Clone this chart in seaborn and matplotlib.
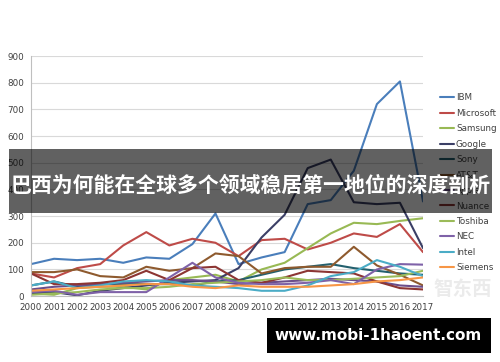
import matplotlib
matplotlib.use("Agg")
import matplotlib.pyplot as plt
import seaborn as sns
import pandas as pd
from matplotlib.patches import Rectangle

years = list(range(2000, 2018))
companies = ["IBM", "Microsoft", "Samsung", "Google", "Sony", "AT&T", "Apple",
             "Nuance", "Toshiba", "NEC", "Intel", "Siemens"]

ibm       = [120, 140, 135, 140, 125, 145, 140, 195, 310, 120, 145, 165, 345, 360, 470, 720, 805, 355]
microsoft = [85, 70, 105, 120, 190, 240, 190, 215, 200, 150, 210, 215, 175, 200, 235, 222, 270, 165]
samsung   = [10, 5, 30, 35, 35, 25, 60, 70, 80, 55, 100, 125, 180, 235, 275, 270, 282, 292]
google    = [10, 15, 3, 20, 30, 40, 50, 55, 60, 105, 220, 305, 480, 512, 352, 345, 350, 180]
sony      = [40, 55, 35, 45, 45, 45, 45, 40, 55, 60, 80, 100, 110, 120, 105, 95, 85, 80]
att       = [90, 90, 100, 75, 70, 110, 95, 105, 160, 150, 85, 105, 110, 110, 185, 115, 80, 40]
apple     = [25, 35, 40, 45, 50, 55, 60, 60, 55, 45, 50, 55, 60, 65, 60, 55, 40, 35]
nuance    = [85, 45, 45, 50, 60, 95, 60, 105, 110, 60, 50, 70, 95, 90, 85, 55, 30, 25]
toshiba   = [5, 10, 15, 25, 30, 30, 35, 45, 50, 55, 60, 70, 60, 60, 65, 70, 75, 95]
nec       = [15, 20, 5, 15, 15, 15, 70, 125, 70, 50, 45, 45, 50, 60, 45, 100, 120, 118]
intel     = [40, 55, 30, 40, 55, 60, 55, 40, 35, 30, 20, 20, 40, 75, 90, 135, 110, 75]
siemens   = [20, 25, 30, 35, 40, 45, 45, 35, 30, 40, 35, 35, 35, 40, 45, 55, 60, 70]

series = [ibm, microsoft, samsung, google, sony, att, apple, nuance, toshiba, nec, intel, siemens]
colors = ["#4A7EBB", "#BE4B48", "#98B954", "#3B3F66", "#23606E", "#8E5A2E", "#6B4E8A",
          "#8C3533", "#9BBB59", "#7F62A8", "#4BACC6", "#F79646"]

rows = []
for name, vals in zip(companies, series):
    for y, v in zip(years, vals):
        rows.append({"year": y, "value": v, "company": name})
df = pd.DataFrame(rows)

sns.set_theme(style="white")
plt.rcParams['font.family'] = ['DejaVu Sans']

fig = plt.figure(figsize=(5.0, 3.62), dpi=100)
ax = fig.add_axes([0.062, 0.182, 0.784, 0.663])

sns.lineplot(data=df, x="year", y="value", hue="company", hue_order=companies,
             palette=dict(zip(companies, colors)), linewidth=1.5, ax=ax, legend=True)

ax.set_xlim(2000, 2017)
ax.set_ylim(0, 900)
ax.set_xticks(years)
ax.set_xticklabels([str(y) for y in years])
ax.set_yticks(range(0, 1000, 100))
ax.set_xlabel("")
ax.set_ylabel("")
ax.grid(axis="y", color="#d9d9d9", linewidth=0.8)
ax.grid(axis="x", visible=False)
for s in ["top", "right"]:
    ax.spines[s].set_visible(False)
for s in ["left", "bottom"]:
    ax.spines[s].set_color("#bfbfbf")
    ax.spines[s].set_linewidth(0.8)
ax.tick_params(axis="both", labelsize=6.3, colors="#404040", length=3, width=0.6,
               color="#bfbfbf", pad=2)
ax.tick_params(axis="x", direction="out")

leg = ax.legend(loc="upper left", bbox_to_anchor=(1.035, 0.86), frameon=False,
                fontsize=6.3, handlelength=1.6, handletextpad=0.2, labelspacing=0.74,
                borderaxespad=0)
for t in leg.get_texts():
    t.set_color("#404040")

# faint watermark logo
fig.text(0.925, 0.2, "智东西", family=["Noto Sans CJK SC", "DejaVu Sans"], fontsize=14,
         fontweight="bold", color="#ebebeb", ha="center", va="center")

# semi-transparent banner
banner = Rectangle((0.018, 0.4116), 0.966, 0.177, transform=fig.transFigure,
                   facecolor="black", alpha=0.62, edgecolor="none", zorder=5)
fig.add_artist(banner)
fig.text(0.022, 0.489, "巴西为何能在全球多个领域稳居第一地位的深度剖析",
         family=["Noto Sans CJK SC", "DejaVu Sans"], fontsize=15, fontweight="bold",
         color="white", ha="left", va="center", zorder=6)

# url box
box = Rectangle((0.534, 0.0249), 0.448, 0.0967, transform=fig.transFigure,
                facecolor="black", edgecolor="none", zorder=5)
fig.add_artist(box)
fig.text(0.757, 0.073, "www.mobi-1haoent.com", family=["DejaVu Sans"], fontsize=11,
         fontweight="bold", color="white", ha="center", va="center", zorder=6)

fig.savefig("out.png", dpi=100)
